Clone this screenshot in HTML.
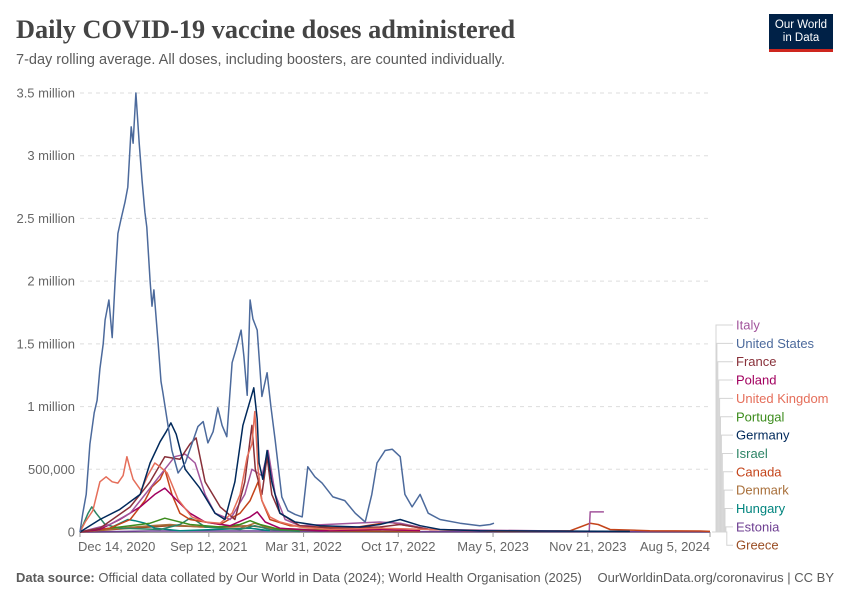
<!DOCTYPE html>
<html><head><meta charset="utf-8"><style>
body{margin:0;background:#fff;}
#w{position:relative;width:850px;height:600px;font-family:"Liberation Sans",sans-serif;overflow:hidden}
.t{position:absolute;white-space:nowrap}
</style></head><body>
<div id="w">
<div class="t" style="left:16px;top:15px;font-family:'Liberation Serif',serif;font-size:26.3px;font-weight:bold;color:#444">Daily COVID-19 vaccine doses administered</div>
<div class="t" style="left:16px;top:52px;font-size:14.5px;color:#5b5b5b">7-day rolling average. All doses, including boosters, are counted individually.</div>
<div style="position:absolute;left:769px;top:14px;width:64px;height:38px;background:#002147;border-bottom:3px solid #ce261e;box-sizing:border-box;color:#fff;font-size:11.5px;line-height:13px;text-align:center;padding-top:5px">Our World<br>in Data</div>
<svg id="c" width="850" height="600" style="position:absolute;left:0;top:0"></svg>
<div class="t" style="left:16px;top:570px;font-size:13px;color:#5b5b5b"><b>Data source:</b> Official data collated by Our World in Data (2024); World Health Organisation (2025)</div>
<div class="t" style="right:16px;top:570px;font-size:13px;color:#5b5b5b">OurWorldinData.org/coronavirus | CC BY</div>
</div>
<script>
// days since 2020-12-14, values in thousands of doses
const yTicks=[0,500,1000,1500,2000,2500,3000,3500];
const yTickLabels=["0","500,000","1 million","1.5 million","2 million","2.5 million","3 million","3.5 million"];
const xTickDays=[0,272,472,672,872,1072,1330];
const xTickLabels=["Dec 14, 2020","Sep 12, 2021","Mar 31, 2022","Oct 17, 2022","May 5, 2023","Nov 21, 2023","Aug 5, 2024"];
const seriesNames=["Italy","United States","France","Poland","United Kingdom","Portugal","Germany","Israel","Canada","Denmark","Hungary","Estonia","Greece"];
const seriesColors=["#a2559c","#4c6a9c","#883039","#a2005f","#e56e5a","#3c8c1d","#00295b","#2c8465","#c4441a","#a86f3a","#00847e","#6d3e91","#9a4e24"];
const estoniaDays=[0,148,359,676,1330];
const estoniaVals=[0,8,8,3,2];
const greeceDays=[0,106,190,275,359,422,528,718];
const greeceVals=[0,30,50,40,50,20,8,3];
const denmarkDays=[0,84,148,190,253,338,369,401,528,633,718];
const denmarkVals=[0,30,50,60,40,30,70,30,15,20,5];
const hungaryDays=[0,63,101,116,137,158,211,359,401];
const hungaryVals=[0,30,100,90,70,30,10,30,10];
const israelDays=[0,17,25,34,53,84,169,211,232,245,264,338,369,401,464];
const israelVals=[0,150,200,150,60,30,20,60,110,90,40,20,50,20,5];
const portugalDays=[0,63,106,148,179,200,232,296,338,359,380,422,528];
const portugalVals=[0,30,50,70,110,90,60,40,60,90,60,20,10];
const canadaDays=[0,63,106,137,152,169,179,194,211,232,296,338,359,376,384,401,443,570,654,676,739,887,1035,1056,1077,1094,1119,1203,1309,1330];
const canadaVals=[0,30,100,250,360,420,500,300,150,100,60,150,250,400,250,100,50,30,80,60,20,5,10,40,70,60,20,10,8,5];
const polandDays=[0,42,84,127,158,179,200,232,264,317,359,374,391,422,507,633,718];
const polandVals=[0,20,100,200,300,350,270,150,80,50,120,160,80,30,10,20,10];
const italyDays=[0,63,106,148,179,200,222,243,264,285,317,348,363,384,397,412,433,464,633,676,739,1075,1077,1106];
const italyVals=[0,60,150,350,500,600,620,550,300,150,100,300,500,450,650,300,100,50,80,70,20,5,160,160];
const franceDays=[0,42,106,148,179,211,232,245,264,296,327,348,363,370,384,395,405,422,464,528,633,676,739,844];
const franceVals=[0,30,200,400,600,580,700,750,400,200,100,400,850,500,300,600,300,150,50,30,40,60,20,10];
const ukDays=[0,11,27,42,55,68,80,91,99,106,112,129,143,158,169,184,207,236,264,296,321,338,353,363,369,376,384,401,422,464,528,633,844];
const ukVals=[0,80,170,400,440,400,390,450,600,500,420,330,450,550,520,470,260,120,80,70,150,300,600,700,960,500,250,120,80,40,20,30,10];
const germanyDays=[0,21,42,84,127,148,169,182,192,203,222,253,285,306,327,344,367,374,378,386,395,405,422,454,507,591,633,676,718,760,844,1161];
const germanyVals=[0,50,100,180,300,550,720,800,870,780,500,350,150,100,400,850,1150,900,550,420,650,400,150,80,50,40,60,100,50,20,10,5];
const usDays=[0,6,13,21,30,36,42,49,53,61,68,74,80,87,95,101,108,112,118,125,131,137,141,148,152,156,165,171,175,184,194,207,222,236,249,260,270,281,291,300,310,321,329,340,346,353,359,365,374,384,395,403,412,426,439,454,469,481,496,511,534,559,581,602,616,627,644,659,676,686,701,718,735,760,802,844,866,874];
const usVals=[0,150,300,700,950,1050,1300,1500,1690,1850,1550,2000,2380,2500,2630,2750,3230,3100,3500,3100,2800,2550,2430,2000,1800,1930,1500,1200,1110,890,650,470,550,700,840,880,710,800,990,850,760,1350,1450,1610,1400,1090,1850,1700,1610,1080,1270,1000,730,280,170,140,120,520,440,390,280,250,150,80,300,550,650,660,600,300,200,300,150,100,70,50,60,70];
const drawOrder=[
 [estoniaDays,estoniaVals,11],[greeceDays,greeceVals,12],[denmarkDays,denmarkVals,9],[hungaryDays,hungaryVals,10],
 [israelDays,israelVals,7],[portugalDays,portugalVals,5],[canadaDays,canadaVals,8],[polandDays,polandVals,3],
 [italyDays,italyVals,0],[franceDays,franceVals,2],[ukDays,ukVals,4],[germanyDays,germanyVals,6],[usDays,usVals,1]];

const X0=80,X1=710,Y0=532,Y1=93,DMAX=1330,VMAX=3500;
const xs=d=>X0+(X1-X0)*d/DMAX;
const ys=v=>Y0-(Y0-Y1)*v/VMAX;
const svg=document.getElementById('c');
const NS='http://www.w3.org/2000/svg';
function mk(tag,at){const e=document.createElementNS(NS,tag);for(const k in at)e.setAttribute(k,at[k]);svg.appendChild(e);return e;}
yTicks.forEach((v,i)=>{
 if(i>0){const g=mk('line',{x1:X0,x2:X1,y1:ys(v),y2:ys(v),stroke:'#ddd','stroke-dasharray':'4,4'});
 
 }
 const t=mk('text',{x:75,y:ys(v)+4.5,'text-anchor':'end','font-size':13,fill:'#666','font-family':'Liberation Sans,sans-serif'});
 t.textContent=yTickLabels[i];
 
 
});
const ax=mk('line',{x1:X0,x2:X1,y1:Y0+0.5,y2:Y0+0.5,stroke:'#999'});


xTickDays.forEach((d,i)=>{
 const tk=mk('line',{x1:xs(d),x2:xs(d),y1:Y0,y2:Y0+5,stroke:'#999'});
 
 
 const anc=i==0?'start':(i==xTickDays.length-1?'end':'middle');
 const t=mk('text',{x:xs(d)+(i==0?-2:0),y:551,'text-anchor':anc,'font-size':13,fill:'#666','font-family':'Liberation Sans,sans-serif'});
 t.textContent=xTickLabels[i];
 
 
});
drawOrder.forEach(([ds,vs,ci])=>{
 const p=ds.map((d,j)=>(j?'L':'M')+xs(d).toFixed(1)+','+ys(vs[j]).toFixed(1)).join('');
 const e=mk('path',{d:p,fill:'none',stroke:seriesColors[ci],'stroke-width':1.5,'stroke-linejoin':'round'});
 
 
});
seriesNames.forEach((n,i)=>{
 const ly=325+i*18.35;
 const cx=716+i*0.9;
 const ln=mk('path',{d:`M${X1+2},${Y0}H${cx}V${ly}H733`,fill:'none',stroke:'#d4d4d4','stroke-width':1});
 
 
 const t=mk('text',{x:736,y:ly+4.5,'font-size':13,fill:seriesColors[i],'font-family':'Liberation Sans,sans-serif'});
 t.textContent=n;
 
 
});
</script>
</body></html>
